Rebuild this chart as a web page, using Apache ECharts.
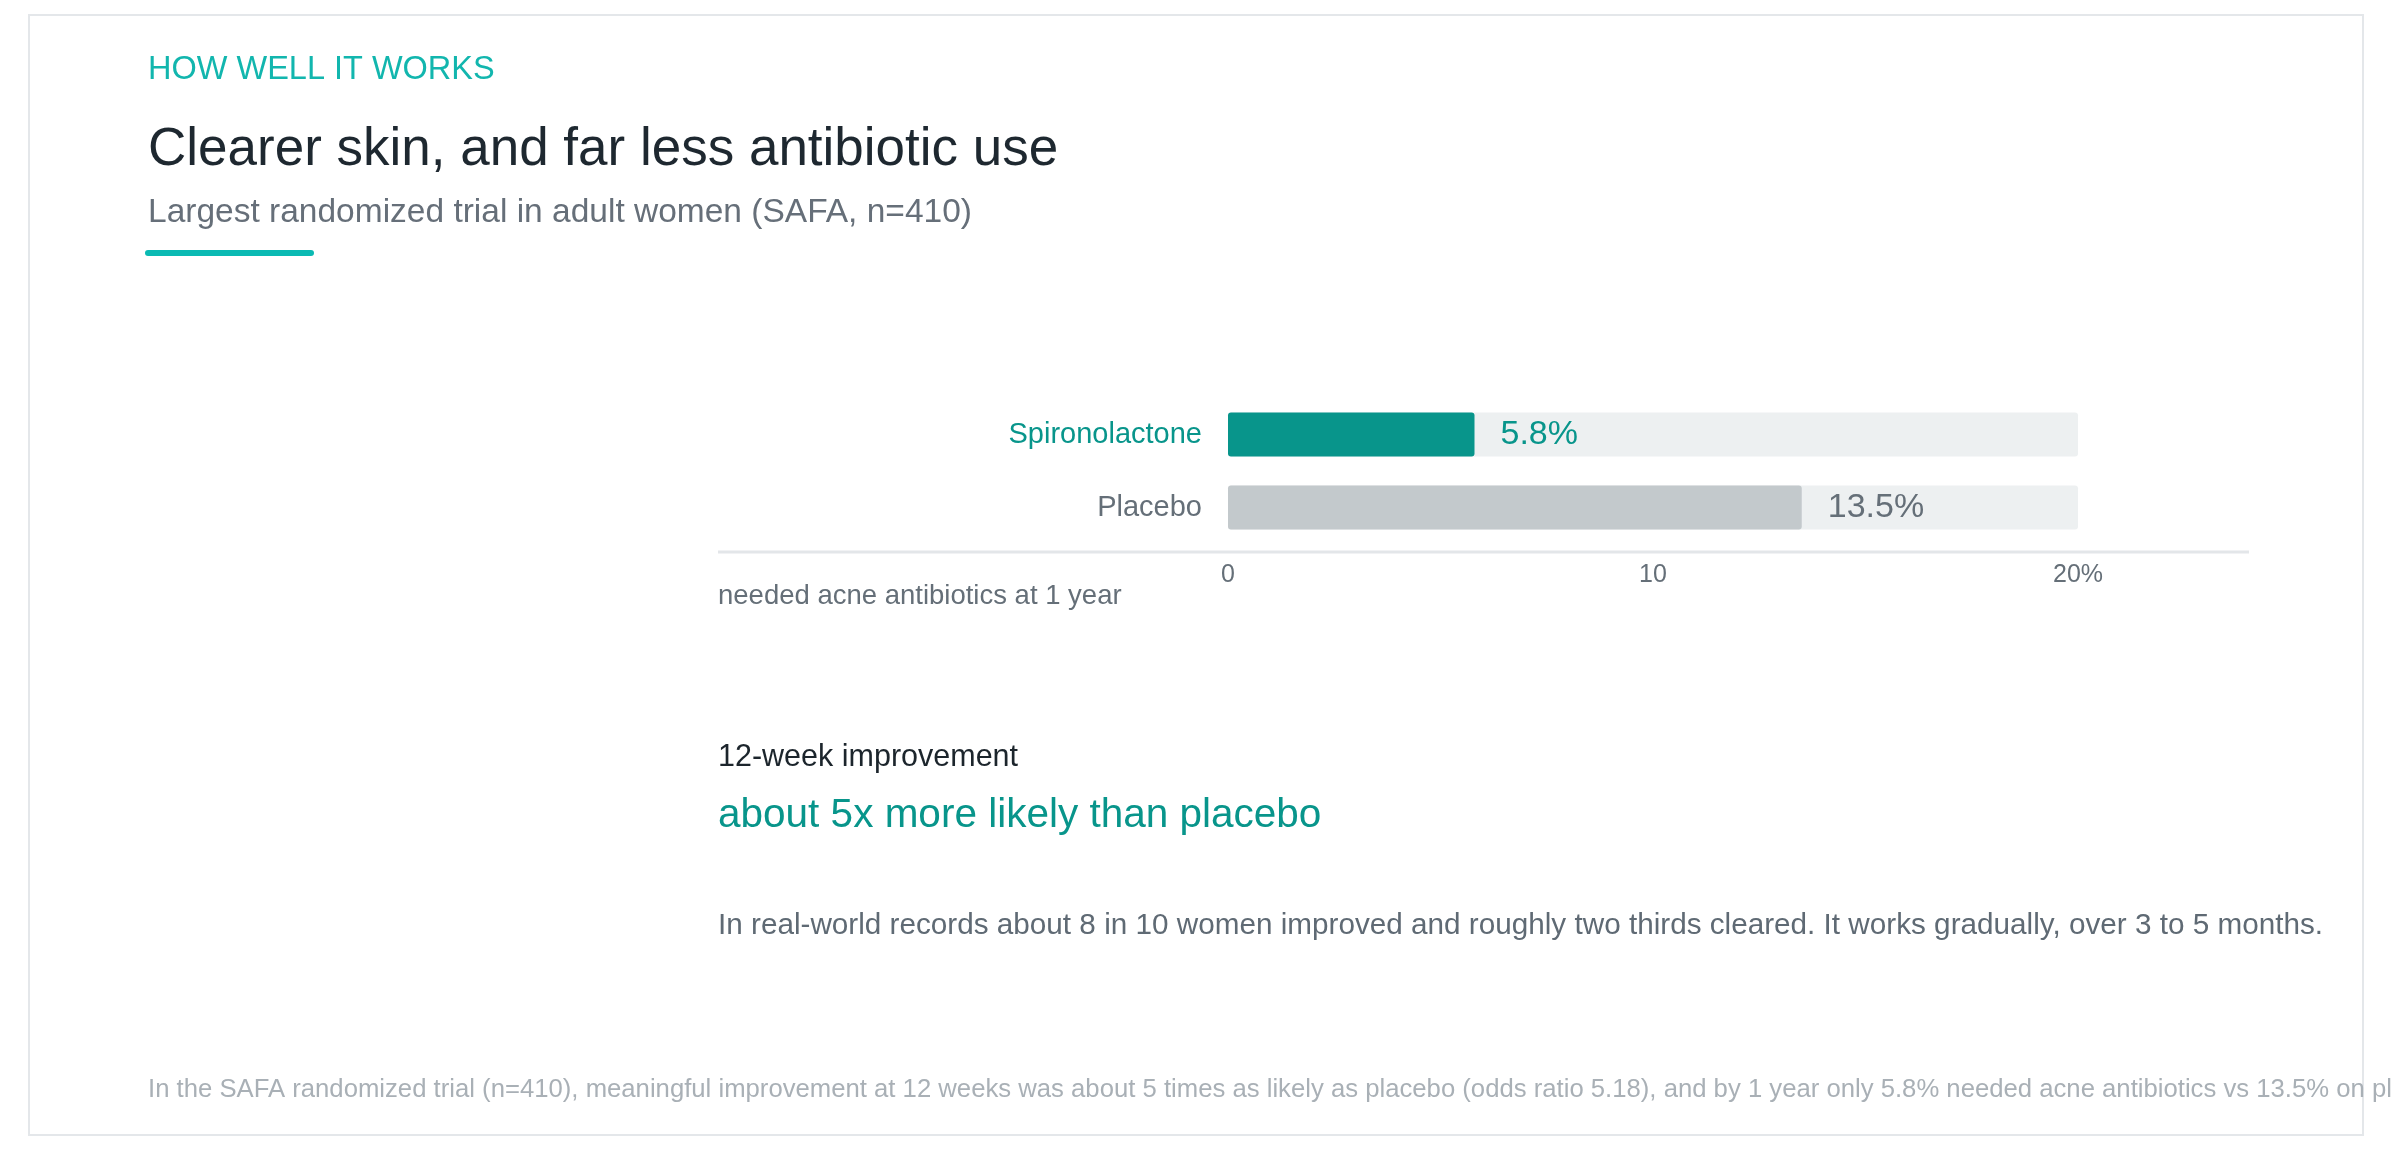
<!DOCTYPE html>
<html>
<head>
<meta charset="utf-8">
<script src="https://cdn.jsdelivr.net/npm/echarts@6/dist/echarts.min.js"></script>
<style>
  html, body { margin: 0; padding: 0; background: #fff; }
  #chart { width: 2392px; height: 1150px; }
</style>
</head>
<body>
<div id="chart"></div>
<script>
// data
var groups = ['Spironolactone', 'Placebo'];
var neededAntibiotics = [5.8, 13.5];
var tickValues = [0, 10, 20];

var FONT = '"Helvetica Neue", Helvetica, Arial, "Liberation Sans", sans-serif';
var TEAL = '#08958b';
var GREY_BAR = '#c3c9cc';
var GREY_TEXT = '#656f78';
var barColors = [TEAL, GREY_BAR];
var labelColors = [TEAL, GREY_TEXT];

var myChart = echarts.init(document.getElementById('chart'));

function txt(x, y, text, size, color) {
    return {
        type: 'text',
        x: x, y: y,
        style: {
            text: text,
            font: size + 'px ' + FONT,
            fill: color,
            textVerticalAlign: 'middle'
        }
    };
}

var option = {
    backgroundColor: '#fff',
    animation: false,
    grid: {
        left: 1228,
        width: 850,
        top: 398,
        height: 146
    },
    xAxis: {
        type: 'value',
        min: 0,
        max: 20,
        interval: 10,
        axisLine: { show: false },
        axisTick: { show: false },
        splitLine: { show: false },
        axisLabel: {
            margin: 19,
            fontSize: 25,
            fontFamily: FONT,
            color: GREY_TEXT,
            formatter: function (v) {
                return v === tickValues[tickValues.length - 1] ? v + '%' : String(v);
            }
        }
    },
    yAxis: {
        type: 'category',
        data: groups,
        inverse: true,
        axisLine: { show: false },
        axisTick: { show: false },
        axisLabel: {
            margin: 26,
            fontSize: 29,
            fontFamily: FONT,
            color: function (v, i) { return labelColors[i]; }
        }
    },
    series: [{
        type: 'bar',
        barWidth: 44,
        showBackground: true,
        backgroundStyle: { color: '#edf0f1', borderRadius: 3 },
        data: neededAntibiotics.map(function (v, i) {
            return {
                value: v,
                itemStyle: { color: barColors[i], borderRadius: 3 },
                label: { color: labelColors[i] }
            };
        }),
        label: {
            show: true,
            position: 'right',
            distance: 26,
            fontSize: 34,
            fontFamily: FONT,
            formatter: '{c}%'
        }
    }],
    graphic: [
        // card frame
        {
            type: 'rect',
            shape: { x: 29, y: 15, width: 2334, height: 1120 },
            style: { fill: 'none', stroke: '#e4e7ea', lineWidth: 2 },
            z: -1
        },
        txt(148, 70, 'HOW WELL IT WORKS', 32.5, '#12b6ae'),
        txt(148, 150, 'Clearer skin, and far less antibiotic use', 53, '#1e2830'),
        txt(148, 213, 'Largest randomized trial in adult women (SAFA, n=410)', 33.5, '#666f79'),
        {
            type: 'rect',
            shape: { x: 145, y: 250, width: 169, height: 6, r: 3 },
            style: { fill: '#0bbab3' }
        },
        // baseline rule under the bars
        {
            type: 'line',
            shape: { x1: 718, y1: 552, x2: 2249, y2: 552 },
            style: { stroke: '#e3e6e9', lineWidth: 3 }
        },
        txt(718, 596, 'needed acne antibiotics at 1 year', 27.5, GREY_TEXT),
        txt(718, 758, '12-week improvement', 30.5, '#1c252c'),
        txt(718, 816, 'about 5x more likely than placebo', 40.5, TEAL),
        txt(718, 926, 'In real-world records about 8 in 10 women improved and roughly two thirds cleared. It works gradually, over 3 to 5 months.', 29.7, '#5f6a74'),
        txt(148, 1090, 'In the SAFA randomized trial (n=410), meaningful improvement at 12 weeks was about 5 times as likely as placebo (odds ratio 5.18), and by 1 year only 5.8% needed acne antibiotics vs 13.5% on placebo.', 25.7, '#a9b0b6')
    ]
};

myChart.setOption(option);
window.addEventListener('resize', function () {
    myChart.resize();
});
</script>
</body>
</html>
